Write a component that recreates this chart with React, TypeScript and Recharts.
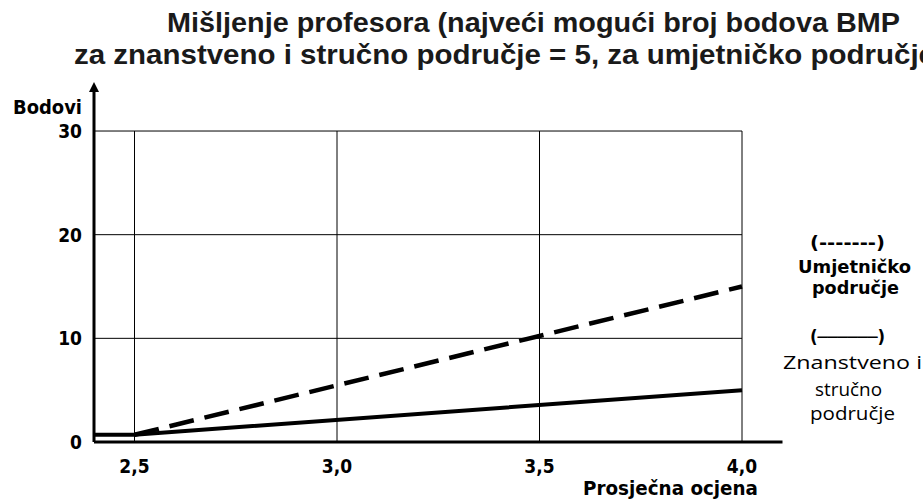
import React from 'react';
import { LineChart, Line, XAxis, YAxis, ReferenceLine, ReferenceDot } from 'recharts';

// ---- data ----
const xValues = [2.4, 2.5, 4.0];
const znanstvenoValues = [0.7, 0.7, 5];
const umjetnickoValues: (number | null)[] = [null, 0.7, 15];
const xTicks = [2.5, 3.0, 3.5, 4.0];
const yTicks = [0, 10, 20, 30];
const gridYValues = [10, 20, 30];
const xDomain = [2.4, 4.1];
const yDomain = [0, 34.73];
const gridXEnd = 4.0;
const gridYTop = 30;
const axisLineTop = 34.0;
const arrowTip = 34.73;

const titleLine1 = 'Mišljenje profesora (najveći mogući broj bodova BMP';
const titleLine2 = 'za znanstveno i stručno područje = 5, za umjetničko područje';
const yLabel = 'Bodovi';
const xLabel = 'Prosječna ocjena';
const legendDashed = ['(-------)', 'Umjetničko', 'područje'];
const legendSolid = ['(──────)', 'Znanstveno i', 'stručno', 'područje'];

const data = xValues.map((x, i) => ({
  x,
  znanstveno: znanstvenoValues[i],
  umjetnicko: umjetnickoValues[i],
}));

const AXIS_FONT = "'DejaVu Sans Condensed', 'DejaVu Sans', sans-serif";
const TITLE_FONT = "'Liberation Sans', Arial, sans-serif";
const LEGEND_FONT = "'Open Sans', 'Noto Sans', sans-serif";

const fmt = (v: number) => v.toFixed(1).replace('.', ',');

const XTick = (props: any) => {
  const { x, y, payload } = props;
  return (
    <text x={x} y={y + 31} textAnchor="middle" fontFamily={AXIS_FONT} fontWeight="bold" fontSize={19} fill="#000" style={{ fontStretch: 'condensed' }}>
      {fmt(payload.value)}
    </text>
  );
};

const YTick = (props: any) => {
  const { x, y, payload } = props;
  return (
    <text x={x} y={y + 7} textAnchor="end" fontFamily={AXIS_FONT} fontWeight="bold" fontSize={19} fill="#000" style={{ fontStretch: 'condensed' }}>
      {String(payload.value)}
    </text>
  );
};

const Arrow = (props: any) => {
  const { cx, cy } = props;
  return <polygon points={`${cx},${cy} ${cx - 5},${cy + 10} ${cx + 5},${cy + 10}`} fill="#000" />;
};

const axisText = { fontFamily: AXIS_FONT, fontWeight: 'bold' as const, fontSize: 19, fill: '#000', style: { fontStretch: 'condensed' } };
const legendBold = { fontFamily: AXIS_FONT, fontWeight: 'bold' as const, fontSize: 17, fill: '#000', style: { fontStretch: 'condensed' } };
const legendText = { fontFamily: LEGEND_FONT, fontWeight: 'normal' as const, fontSize: 18, fill: '#000' };

export default function App() {
  return (
    <div style={{ position: 'absolute', left: 0, top: 0, width: 923, height: 502, background: '#fff' }}>
      <LineChart width={923} height={502} data={data} margin={{ top: 82, right: 140.5, bottom: 0, left: 0 }}>
        <XAxis
          dataKey="x"
          type="number"
          domain={xDomain}
          ticks={xTicks}
          height={60}
          tickSize={0}
          tickMargin={0}
          tickLine={false}
          axisLine={{ stroke: '#000', strokeWidth: 3 }}
          tick={<XTick />}
          interval={0}
        />
        <YAxis
          type="number"
          domain={yDomain}
          ticks={yTicks}
          width={94}
          tickSize={0}
          tickMargin={12}
          tickLine={false}
          axisLine={false}
          tick={<YTick />}
          interval={0}
        />
        {xTicks.map((v) => (
          <ReferenceLine key={'vx' + v} segment={[{ x: v, y: 0 }, { x: v, y: gridYTop }]} stroke="#000" strokeWidth={1} />
        ))}
        {gridYValues.map((v) => (
          <ReferenceLine key={'hy' + v} segment={[{ x: xDomain[0], y: v }, { x: gridXEnd, y: v }]} stroke="#000" strokeWidth={1} />
        ))}
        <ReferenceLine segment={[{ x: xDomain[0], y: 0 }, { x: xDomain[0], y: axisLineTop }]} stroke="#000" strokeWidth={3} />
        <ReferenceDot x={xDomain[0]} y={arrowTip} r={5} shape={<Arrow />} ifOverflow="visible" />
        <Line type="linear" dataKey="umjetnicko" stroke="#000" strokeWidth={4.5} strokeDasharray="25 11" dot={false} activeDot={false} isAnimationActive={false} />
        <Line type="linear" dataKey="znanstveno" stroke="#000" strokeWidth={4} dot={false} activeDot={false} isAnimationActive={false} />
      </LineChart>
      <svg width={923} height={502} style={{ position: 'absolute', left: 0, top: 0, pointerEvents: 'none' }}>
        <text x={167} y={32} fontFamily={TITLE_FONT} fontWeight="bold" fontSize={27} fill="#1a1a1a" textLength={733} lengthAdjust="spacingAndGlyphs">{titleLine1}</text>
        <text x={74} y={64} fontFamily={TITLE_FONT} fontWeight="bold" fontSize={27} fill="#1a1a1a" textLength={861} lengthAdjust="spacingAndGlyphs">{titleLine2}</text>
        <text x={13} y={114} {...axisText} textLength={69} lengthAdjust="spacingAndGlyphs">{yLabel}</text>
        <text x={583} y={495} {...axisText} textLength={175} lengthAdjust="spacingAndGlyphs">{xLabel}</text>
        <text x={810} y={249} {...legendBold} textLength={75} lengthAdjust="spacingAndGlyphs">{legendDashed[0]}</text>
        <text x={798} y={273} {...legendBold} textLength={113} lengthAdjust="spacingAndGlyphs">{legendDashed[1]}</text>
        <text x={812} y={294} {...legendBold} textLength={87} lengthAdjust="spacingAndGlyphs">{legendDashed[2]}</text>
        <text x={810} y={343} {...legendBold} textLength={75} lengthAdjust="spacingAndGlyphs">{legendSolid[0]}</text>
        <text x={783} y={369} {...legendText} textLength={139} lengthAdjust="spacingAndGlyphs">{legendSolid[1]}</text>
        <text x={815} y={396} {...legendText} textLength={67} lengthAdjust="spacingAndGlyphs">{legendSolid[2]}</text>
        <text x={810} y={420} {...legendText} textLength={85} lengthAdjust="spacingAndGlyphs">{legendSolid[3]}</text>
      </svg>
    </div>
  );
}
